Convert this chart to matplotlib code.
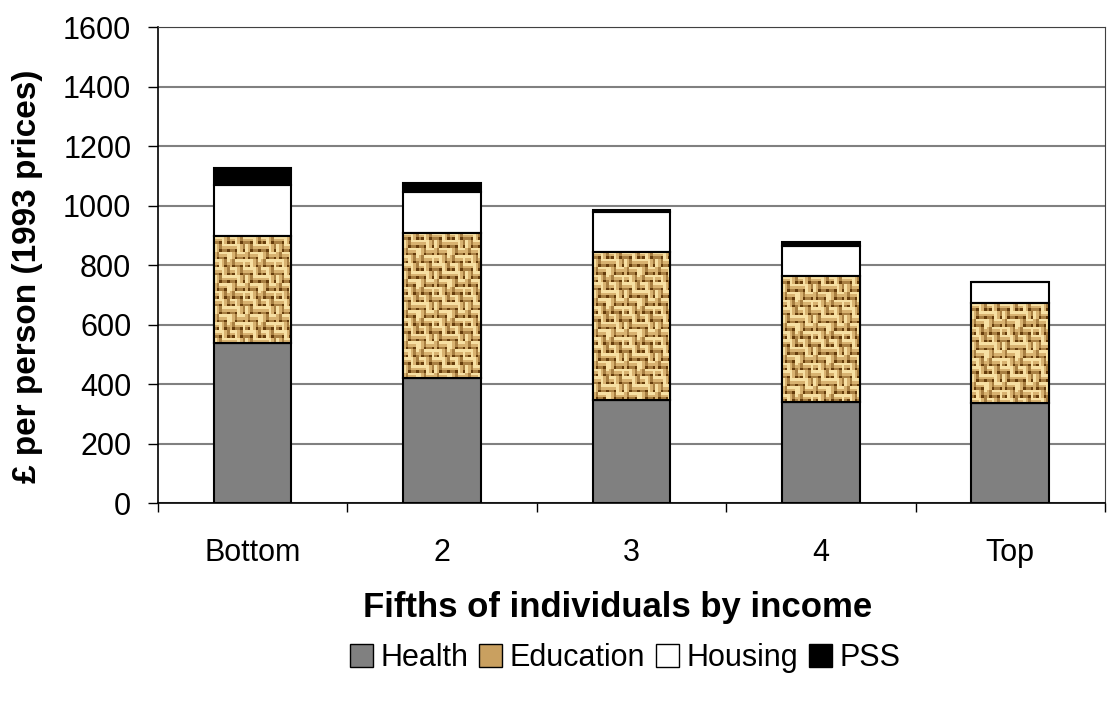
import numpy as np
import matplotlib
matplotlib.use("Agg")
import matplotlib.pyplot as plt
from matplotlib.patches import Patch

categories = ["Bottom", "2", "3", "4", "Top"]
health = [538, 420, 346, 340, 336]
education = [359, 488, 498, 423, 336]
housing = [172, 137, 134, 101, 71]
pss = [58, 31, 7, 13, 0]

plt.rcParams['font.family'] = ['Liberation Sans', 'DejaVu Sans']

fig = plt.figure(figsize=(11.11, 7.11), dpi=100)
ax = fig.add_axes([0.142, 0.2925, 0.8526, 0.6695])

x = np.arange(len(categories))
w = 0.41

h = np.array(health, float)
e = np.array(education, float)
ho = np.array(housing, float)
p = np.array(pss, float)

# basket-weave texture tile (pure styling)
cream = np.array([0.97, 0.88, 0.64])
light = np.array([0.85, 0.70, 0.44])
mid = np.array([0.66, 0.50, 0.26])
dark = np.array([0.40, 0.24, 0.05])
B = 3
tile = np.zeros((2 * B, 2 * B, 3))
for i in range(2 * B):
    for j in range(2 * B):
        horiz = ((i // B) + (j // B)) % 2 == 0
        k = (i % B) if horiz else (j % B)
        c = [cream, light, mid][k]
        if (i % B == B - 1) and (j % B == B - 1):
            c = dark
        tile[i, j] = c
# shift alternating super-rows to break regularity
big = np.concatenate([tile, np.roll(tile, 2, axis=1)], axis=0)
big = np.concatenate([big, np.roll(big, 3, axis=0)], axis=1)

px_per_unit = 0.6695 * 711 / 1600.0
bar_px = w * 0.8526 * 1111 / len(categories)
texel = 2.6

ax.bar(x, h, w, color='#808080', edgecolor='black', linewidth=1.5, zorder=3)
ebars = ax.bar(x, e, w, bottom=h, color='#d2b277', edgecolor='black', linewidth=1.5, zorder=3)
ax.bar(x, ho, w, bottom=h + e, color='white', edgecolor='black', linewidth=1.5, zorder=3)
ax.bar(x, p, w, bottom=h + e + ho, color='black', edgecolor='black', linewidth=1.5, zorder=3)

for b in ebars:
    x0, y0 = b.get_x(), b.get_y()
    ncols = int(round(bar_px / texel))
    nrows = int(round(b.get_height() * px_per_unit / texel))
    reps = (nrows // big.shape[0] + 1, ncols // big.shape[1] + 1, 1)
    tex = np.tile(big, reps)[:nrows, :ncols]
    im = ax.imshow(tex, extent=(x0, x0 + b.get_width(), y0, y0 + b.get_height()),
                   aspect='auto', interpolation='nearest', zorder=3.5, origin='upper')
    im.set_clip_path(b)
    ax.bar(x0 + b.get_width() / 2, b.get_height(), b.get_width(), bottom=y0,
           facecolor='none', edgecolor='black', linewidth=1.5, zorder=4)

ax.set_xlim(-0.5, len(categories) - 0.5)
ax.set_ylim(0, 1600)
ax.set_yticks(np.arange(0, 1601, 200))
ax.yaxis.grid(True, color='#808080', linewidth=1.5, zorder=0)
ax.set_axisbelow(True)

ax.set_xticks(x)
ax.set_xticklabels(categories)
ax.tick_params(axis='x', length=0, pad=25, labelsize=22)
ax.set_xticks(np.arange(-0.5, len(categories)), minor=True)
ax.tick_params(axis='x', which='minor', length=6.5, width=1, color='black')
ax.tick_params(axis='y', length=7, width=1, labelsize=22, pad=12)

for s in ['top', 'right']:
    ax.spines[s].set_color('#404040')
for s in ['left', 'bottom']:
    ax.spines[s].set_color('black')
    ax.spines[s].set_linewidth(1.2)

ax.set_xlabel('Fifths of individuals by income', fontsize=25, fontweight='bold')
ax.xaxis.set_label_coords(0.486, -0.185)
ax.set_ylabel('£ per person (1993 prices)', fontsize=24, fontweight='bold')
ax.yaxis.set_label_coords(-0.121, 0.477)

handles = [
    Patch(facecolor='#808080', edgecolor='black'),
    Patch(facecolor='#c9a060', edgecolor='black'),
    Patch(facecolor='white', edgecolor='black'),
    Patch(facecolor='black', edgecolor='black'),
]
fig.legend(handles, ['Health', 'Education', 'Housing', 'PSS'], loc='center',
           bbox_to_anchor=(0.5626, 0.0745), ncol=4, frameon=False, fontsize=22,
           handlelength=0.75, handleheight=0.75, handletextpad=0.25, columnspacing=0.35,
           borderpad=0)

fig.savefig('out.png', dpi=100)
